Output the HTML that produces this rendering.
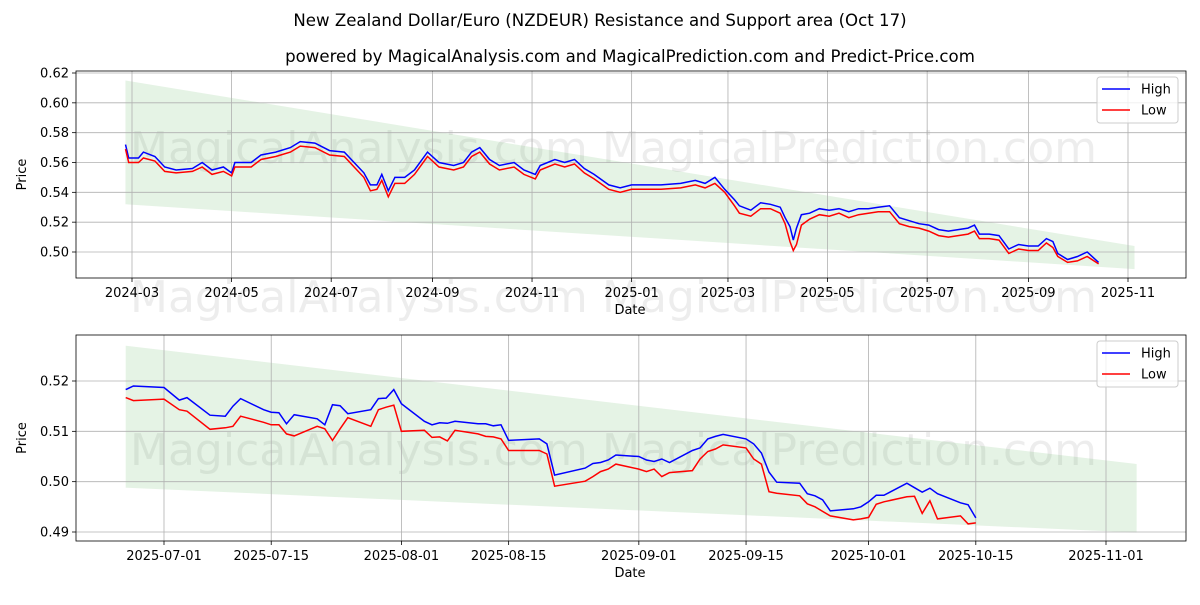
<!DOCTYPE html>
<html><head><meta charset="utf-8"><style>
body{margin:0;background:#fff;}
svg text{font-family:"DejaVu Sans","Liberation Sans",sans-serif;}
</style></head><body>
<svg id="c" width="1200" height="600" xmlns="http://www.w3.org/2000/svg">
<text x="600" y="26" text-anchor="middle" font-size="16.6">New Zealand Dollar/Euro (NZDEUR) Resistance and Support area (Oct 17)</text>
<text x="630" y="62" text-anchor="middle" font-size="16.6">powered by MagicalAnalysis.com and MagicalPrediction.com and Predict-Price.com</text>
</svg>
<script>
const topDates=["2024-02-26","2024-02-28","2024-03-05","2024-03-08","2024-03-15","2024-03-21","2024-03-28","2024-04-07","2024-04-13","2024-04-19","2024-04-26","2024-05-01","2024-05-03","2024-05-13","2024-05-19","2024-05-28","2024-06-06","2024-06-12","2024-06-21","2024-06-30","2024-07-09","2024-07-15","2024-07-21","2024-07-25","2024-07-29","2024-08-01","2024-08-05","2024-08-09","2024-08-15","2024-08-21","2024-08-29","2024-09-05","2024-09-14","2024-09-20","2024-09-25","2024-09-30","2024-10-06","2024-10-12","2024-10-21","2024-10-27","2024-11-03","2024-11-06","2024-11-15","2024-11-21","2024-11-27","2024-12-03","2024-12-09","2024-12-18","2024-12-25","2025-01-01","2025-01-09","2025-01-19","2025-01-31","2025-02-09","2025-02-15","2025-02-21","2025-02-27","2025-03-05","2025-03-08","2025-03-15","2025-03-21","2025-03-27","2025-04-02","2025-04-05","2025-04-08","2025-04-10","2025-04-12","2025-04-15","2025-04-20","2025-04-26","2025-05-02","2025-05-08","2025-05-14","2025-05-20","2025-05-26","2025-06-01","2025-06-08","2025-06-14","2025-06-20","2025-06-26","2025-07-02","2025-07-08","2025-07-14","2025-07-20","2025-07-26","2025-07-30","2025-08-02","2025-08-08","2025-08-14","2025-08-20","2025-08-26","2025-09-01","2025-09-07","2025-09-12","2025-09-16","2025-09-19","2025-09-25","2025-10-01","2025-10-07","2025-10-14"];
const topHigh=[.572,.563,.563,.567,.564,.557,.555,.556,.560,.555,.557,.553,.560,.560,.565,.567,.570,.574,.573,.568,.567,.560,.553,.545,.545,.552,.541,.550,.550,.555,.567,.560,.558,.560,.567,.570,.562,.558,.560,.555,.552,.558,.562,.560,.562,.556,.552,.545,.543,.545,.545,.545,.546,.548,.546,.550,.542,.535,.531,.528,.533,.532,.530,.523,.517,.508,.516,.525,.526,.529,.528,.529,.527,.529,.529,.530,.531,.523,.521,.519,.518,.515,.514,.515,.516,.518,.512,.512,.511,.502,.505,.504,.504,.509,.507,.499,.495,.497,.500,.493];
const topLow=[.569,.560,.560,.563,.561,.554,.553,.554,.557,.552,.554,.551,.557,.557,.562,.564,.567,.571,.570,.565,.564,.557,.550,.541,.542,.548,.537,.546,.546,.552,.564,.557,.555,.557,.564,.567,.559,.555,.557,.552,.549,.555,.559,.557,.559,.553,.549,.542,.540,.542,.542,.542,.543,.545,.543,.546,.540,.531,.526,.524,.529,.529,.526,.519,.507,.501,.505,.518,.522,.525,.524,.526,.523,.525,.526,.527,.527,.519,.517,.516,.514,.511,.510,.511,.512,.514,.509,.509,.508,.499,.502,.501,.501,.506,.503,.497,.493,.494,.497,.492];
const botDates=["2025-06-26","2025-06-27","2025-07-01","2025-07-03","2025-07-04","2025-07-07","2025-07-09","2025-07-10","2025-07-11","2025-07-14","2025-07-15","2025-07-16","2025-07-17","2025-07-18","2025-07-21","2025-07-22","2025-07-23","2025-07-24","2025-07-25","2025-07-28","2025-07-29","2025-07-30","2025-07-31","2025-08-01","2025-08-04","2025-08-05","2025-08-06","2025-08-07","2025-08-08","2025-08-11","2025-08-12","2025-08-13","2025-08-14","2025-08-15","2025-08-19","2025-08-20","2025-08-21","2025-08-25","2025-08-26","2025-08-27","2025-08-28","2025-08-29","2025-09-01","2025-09-02","2025-09-03","2025-09-04","2025-09-05","2025-09-08","2025-09-09","2025-09-10","2025-09-11","2025-09-12","2025-09-15","2025-09-16","2025-09-17","2025-09-18","2025-09-19","2025-09-22","2025-09-23","2025-09-24","2025-09-25","2025-09-26","2025-09-29","2025-09-30","2025-10-01","2025-10-02","2025-10-03","2025-10-06","2025-10-07","2025-10-08","2025-10-09","2025-10-10","2025-10-13","2025-10-14","2025-10-15"];
const botHigh=[.5183,.5190,.5187,.5162,.5167,.5132,.5130,.5150,.5165,.5143,.5138,.5137,.5115,.5133,.5125,.5113,.5153,.5151,.5135,.5143,.5165,.5166,.5183,.5155,.5120,.5113,.5117,.5116,.5120,.5115,.5115,.5111,.5113,.5082,.5085,.5075,.5013,.5027,.5036,.5038,.5043,.5053,.5050,.5043,.5040,.5045,.5038,.5062,.5067,.5085,.5090,.5094,.5085,.5075,.5057,.5019,.4999,.4997,.4976,.4972,.4964,.4942,.4946,.4950,.4960,.4973,.4973,.4997,.4988,.4979,.4987,.4976,.4958,.4954,.4928];
const botLow=[.5167,.5161,.5164,.5143,.5140,.5104,.5107,.5110,.5130,.5118,.5113,.5113,.5095,.5091,.5110,.5105,.5082,.5105,.5127,.5110,.5143,.5148,.5152,.5100,.5102,.5088,.5089,.5081,.5102,.5095,.5090,.5089,.5085,.5062,.5062,.5055,.4991,.5001,.5010,.5020,.5025,.5035,.5025,.5020,.5025,.5010,.5018,.5022,.5045,.5060,.5065,.5073,.5067,.5045,.5035,.4980,.4977,.4972,.4956,.4950,.4941,.4932,.4924,.4926,.4929,.4955,.4960,.4970,.4971,.4937,.4962,.4926,.4932,.4916,.4918];
const topBandDates=["2024-02-26","2025-11-05"],topBandUpper=[.615,.504],topBandLower=[.532,.4885];
const botBandDates=["2025-06-26","2025-11-05"],botBandUpper=[.527,.5035],botBandLower=[.4988,.4899];
const topXTicks=["2024-03-01","2024-05-01","2024-07-01","2024-09-01","2024-11-01","2025-01-01","2025-03-01","2025-05-01","2025-07-01","2025-09-01","2025-11-01"];
const topXLabels=["2024-03","2024-05","2024-07","2024-09","2024-11","2025-01","2025-03","2025-05","2025-07","2025-09","2025-11"];
const topYTicks=[.50,.52,.54,.56,.58,.60,.62];
const botXTicks=["2025-07-01","2025-07-15","2025-08-01","2025-08-15","2025-09-01","2025-09-15","2025-10-01","2025-10-15","2025-11-01"];
const botYTicks=[.49,.50,.51,.52];

const NS="http://www.w3.org/2000/svg";
const svg=document.getElementById('c');
function mk(t,a){const e=document.createElementNS(NS,t);for(const k in a)e.setAttribute(k,a[k]);svg.appendChild(e);return e;}
const day=s=>Date.parse(s)/86400000;

function wm(x,y,txt){
  const w=mk('text',{x:x,y:y,'font-size':44,fill:'#000','fill-opacity':0.07});w.textContent=txt;
  
  
}
function panel(p){
  const {L,R,T,B,d0,x0,d1,x1,v0,y0,v1,y1}=p;
  const X=s=>x0+(day(s)-day(d0))*(x1-x0)/(day(d1)-day(d0));
  const Y=v=>y0+(v-v0)*(y1-y0)/(v1-v0);
  wm(p.wmx1,p.wmy1,'MagicalAnalysis.com');wm(p.wmx2,p.wmy1,'MagicalPrediction.com');
  if(p.wmy2){wm(p.wmx1,p.wmy2,'MagicalAnalysis.com');wm(p.wmx2,p.wmy2,'MagicalPrediction.com');}
  const bd=p.band;
  const pts=[[X(bd.d[0]),Y(bd.u[0])],[X(bd.d[1]),Y(bd.u[1])],[X(bd.d[1]),Y(bd.l[1])],[X(bd.d[0]),Y(bd.l[0])]];
  const band=mk('polygon',{points:pts.map(q=>q.join(',')).join(' '),fill:'#2ca02c','fill-opacity':0.12});
  
  
  p.xt.forEach((t,i)=>{const x=X(t);
    const g=mk('line',{x1:x,x2:x,y1:T,y2:B,stroke:'#b0b0b0','stroke-width':0.8});
    
    
    mk('line',{x1:x,x2:x,y1:B,y2:B+4,stroke:'#000','stroke-width':0.8});
    const tx=mk('text',{x:x,y:B+19,'text-anchor':'middle','font-size':13});tx.textContent=p.xl[i];
    
    });
  p.yt.forEach(v=>{const y=Y(v);
    const g=mk('line',{x1:L,x2:R,y1:y,y2:y,stroke:'#b0b0b0','stroke-width':0.8});
    
    
    mk('line',{x1:L-4,x2:L,y1:y,y2:y,stroke:'#000','stroke-width':0.8});
    const tx=mk('text',{x:L-7,y:y+4.5,'text-anchor':'end','font-size':13});tx.textContent=v.toFixed(p.dec);
    
    });
  const path=(ds,vs)=>ds.map((d,i)=>(i?'L':'M')+X(d).toFixed(1)+','+Y(vs[i]).toFixed(1)).join('');
  const hi=mk('path',{d:path(p.dates,p.high),fill:'none',stroke:'#0000ff','stroke-width':1.5});
  
  
  const lo=mk('path',{d:path(p.dates,p.low),fill:'none',stroke:'#ff0000','stroke-width':1.5});
  
  
  const fr=mk('rect',{x:L,y:T,width:R-L,height:B-T,fill:'none',stroke:'#000','stroke-width':0.8});
  
  
  let t=mk('text',{x:630,y:B+36,'text-anchor':'middle','font-size':13});t.textContent='Date';
  
  
  const cy=(T+B)/2;
  t=mk('text',{x:26,y:cy,'text-anchor':'middle','font-size':13,transform:`rotate(-90 26 ${cy})`});t.textContent='Price';
  
  
  const lg=mk('rect',{x:1097,y:T+6,width:81,height:46,rx:3,fill:'#fff','fill-opacity':0.8,stroke:'#ccc'});
  
  
  [['High','#0000ff',0],['Low','#ff0000',21]].forEach(([n,c,o])=>{
    const ly=T+18+o;
    const l=mk('line',{x1:1102,x2:1130,y1:ly,y2:ly,stroke:c,'stroke-width':1.5});
    
    
    const tx=mk('text',{x:1141,y:ly+4.5,'font-size':13});tx.textContent=n;
    
    });
}
panel({L:76,R:1186,T:71,B:278,d0:"2024-03-01",x0:132,d1:"2025-11-01",x1:1128,v0:.50,y0:252,v1:.62,y1:73,
  xt:topXTicks,xl:topXLabels,yt:topYTicks,dec:2,dates:topDates,high:topHigh,low:topLow,
  band:{d:topBandDates,u:topBandUpper,l:topBandLower},wmx1:130,wmx2:602,wmy1:163,wmy2:312});
panel({L:76,R:1186,T:335,B:541,d0:"2025-07-01",x0:164,d1:"2025-11-01",x1:1106,v0:.52,y0:381,v1:.49,y1:532,
  xt:botXTicks,xl:botXTicks,yt:botYTicks,dec:2,dates:botDates,high:botHigh,low:botLow,
  band:{d:botBandDates,u:botBandUpper,l:botBandLower},wmx1:130,wmx2:602,wmy1:465});
</script>
</body></html>
